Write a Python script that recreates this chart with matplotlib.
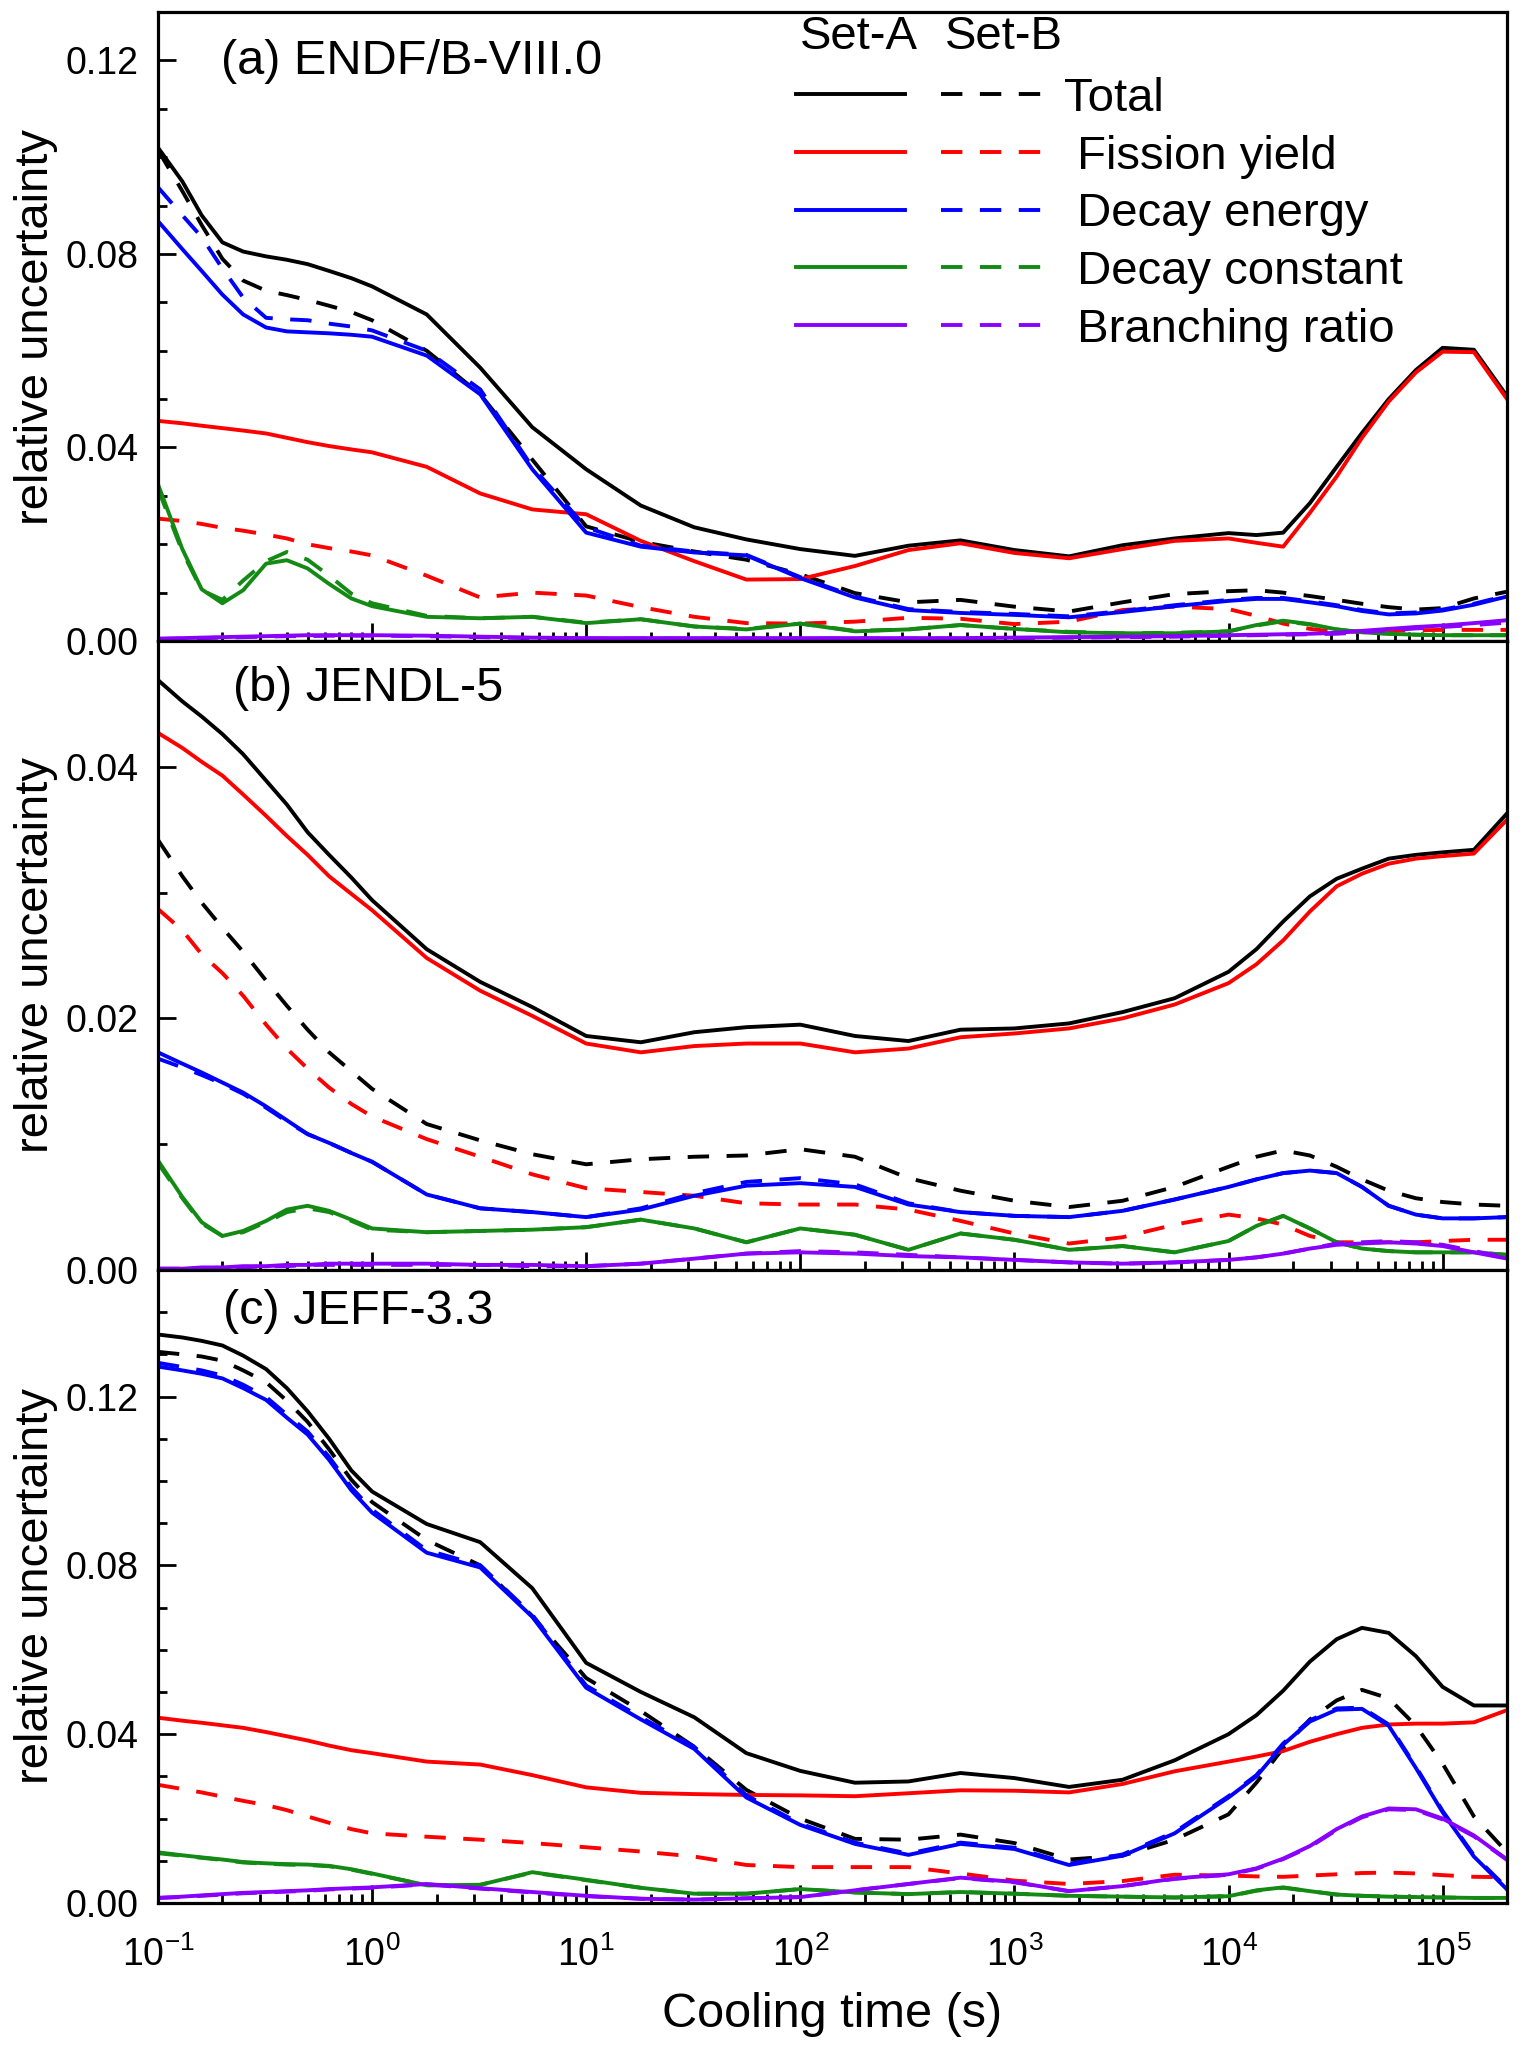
import matplotlib
matplotlib.use("Agg")
import matplotlib.pyplot as plt
from matplotlib.legend_handler import HandlerTuple
from matplotlib.ticker import LogLocator, MultipleLocator, NullFormatter, FormatStrFormatter

plt.rcParams['font.family'] = ['Liberation Sans', 'DejaVu Sans']
plt.rcParams['mathtext.default'] = 'regular'

# cooling time (s)
t = [0.1, 0.13, 0.16, 0.2, 0.25, 0.32, 0.4, 0.5, 0.63, 0.8, 1, 1.8, 3.2, 5.6, 10, 18, 32, 56,
     100, 180, 320, 560, 1e3, 1.8e3, 3.2e3, 5.6e3,
     1e4, 1.35e4, 1.8e4, 2.4e4, 3.2e4, 4.2e4, 5.6e4, 7.5e4, 1e5, 1.4e5, 2e5]
decades = [1e-1, 1e0, 1e1, 1e2, 1e3, 1e4, 1e5]

# (a) ENDF/B-VIII.0
a_tot_A = [0.102, 0.095, 0.088, 0.0824, 0.0805, 0.0795, 0.0788, 0.0779, 0.0765, 0.0750, 0.0733, 0.0675, 0.0565, 0.0442, 0.0355, 0.0280, 0.0235, 0.0210, 0.0190, 0.0176, 0.0197, 0.0208, 0.0188, 0.0175, 0.0198, 0.0212,
           0.0223, 0.0219, 0.0224, 0.0285, 0.0360, 0.0430, 0.0500, 0.0560, 0.0606, 0.0602, 0.0506]
a_tot_B = [0.1015, 0.093, 0.086, 0.079, 0.0745, 0.0724, 0.0715, 0.0705, 0.0693, 0.0680, 0.0663, 0.0600, 0.0510, 0.0375, 0.0237, 0.0205, 0.0185, 0.0168, 0.0138, 0.0099, 0.0080, 0.0085, 0.0071, 0.0061, 0.0080, 0.0097,
           0.0103, 0.0105, 0.0100, 0.0093, 0.0085, 0.0077, 0.0070, 0.0065, 0.0068, 0.0088, 0.0102]
a_fy_A = [0.0455, 0.0450, 0.0445, 0.0440, 0.0435, 0.0429, 0.0420, 0.0411, 0.0403, 0.0396, 0.0390, 0.0360, 0.0305, 0.0272, 0.0262, 0.0207, 0.0165, 0.0127, 0.0128, 0.0155, 0.0188, 0.0202, 0.0182, 0.0171, 0.0190, 0.0207,
          0.0212, 0.0203, 0.0195, 0.0265, 0.0340, 0.0420, 0.0495, 0.0555, 0.0598, 0.0597, 0.0500]
a_fy_B = [0.0253, 0.0248, 0.0242, 0.0234, 0.0228, 0.0220, 0.0212, 0.0200, 0.0192, 0.0185, 0.0177, 0.0135, 0.0090, 0.0100, 0.0094, 0.0070, 0.0050, 0.0037, 0.0036, 0.0040, 0.0048, 0.0046, 0.0035, 0.0040, 0.0064, 0.0071,
          0.0066, 0.0052, 0.0036, 0.0025, 0.0019, 0.0020, 0.0021, 0.0022, 0.0023, 0.0023, 0.0023]
a_de_A = [0.0868, 0.081, 0.0765, 0.0716, 0.0675, 0.0648, 0.0640, 0.0638, 0.0636, 0.0633, 0.0629, 0.0590, 0.0510, 0.0355, 0.0224, 0.0195, 0.0183, 0.0177, 0.0130, 0.0090, 0.0064, 0.0058, 0.0054, 0.0049, 0.0060, 0.0072,
          0.0083, 0.0087, 0.0087, 0.0080, 0.0072, 0.0062, 0.0055, 0.0057, 0.0063, 0.0075, 0.0092]
a_de_B = [0.0938, 0.088, 0.0835, 0.077, 0.071, 0.0668, 0.0665, 0.0663, 0.0656, 0.0650, 0.0642, 0.0600, 0.0520, 0.0360, 0.0235, 0.0197, 0.0185, 0.0178, 0.0132, 0.0092, 0.0066, 0.0060, 0.0056, 0.0051, 0.0062, 0.0074,
          0.0085, 0.0089, 0.0089, 0.0082, 0.0074, 0.0064, 0.0057, 0.0059, 0.0065, 0.0077, 0.0094]
a_dc_A = [0.0324, 0.019, 0.0107, 0.0078, 0.0105, 0.0160, 0.0167, 0.0150, 0.0118, 0.0088, 0.0072, 0.0050, 0.0047, 0.0050, 0.0037, 0.0045, 0.0030, 0.0024, 0.0036, 0.0020, 0.0024, 0.0033, 0.0025, 0.0018, 0.0016, 0.0016,
          0.0020, 0.0033, 0.0042, 0.0035, 0.0024, 0.0018, 0.0015, 0.0013, 0.0012, 0.0012, 0.0012]
a_dc_B = [0.0315, 0.0185, 0.0105, 0.0085, 0.0125, 0.0165, 0.0184, 0.0168, 0.0135, 0.0098, 0.0078, 0.0052, 0.0047, 0.0050, 0.0038, 0.0045, 0.0030, 0.0025, 0.0036, 0.0021, 0.0024, 0.0033, 0.0025, 0.0019, 0.0016, 0.0017,
          0.0020, 0.0032, 0.0041, 0.0034, 0.0024, 0.0018, 0.0015, 0.0013, 0.0012, 0.0012, 0.0012]
a_br_A = [0.0005, 0.0006, 0.0007, 0.0008, 0.0009, 0.0010, 0.0011, 0.0012, 0.0012, 0.0012, 0.0012, 0.0011, 0.0009, 0.0007, 0.0006, 0.0006, 0.0006, 0.0006, 0.0006, 0.0006, 0.0006, 0.0006, 0.0007, 0.0008, 0.0009, 0.0010,
          0.0012, 0.0013, 0.0014, 0.0015, 0.0017, 0.0021, 0.0025, 0.0029, 0.0032, 0.0037, 0.0043]
a_br_B = [0.0004, 0.0005, 0.0006, 0.0007, 0.0008, 0.0009, 0.0010, 0.0010, 0.0011, 0.0011, 0.0011, 0.0010, 0.0008, 0.0006, 0.0005, 0.0005, 0.0005, 0.0005, 0.0005, 0.0005, 0.0005, 0.0005, 0.0006, 0.0007, 0.0008, 0.0009,
          0.0011, 0.0012, 0.0013, 0.0014, 0.0015, 0.0018, 0.0022, 0.0026, 0.0029, 0.0033, 0.0038]

# (b) JENDL-5
b_tot_A = [0.0469, 0.0452, 0.0440, 0.0426, 0.0410, 0.0389, 0.0370, 0.0348, 0.0330, 0.0312, 0.0294, 0.0255, 0.0229, 0.0209, 0.0186, 0.0181, 0.0189, 0.0193, 0.0195, 0.0186, 0.0182, 0.0191, 0.0192, 0.0196, 0.0205, 0.0216,
           0.0237, 0.0255, 0.0277, 0.0297, 0.0311, 0.0319, 0.0327, 0.0330, 0.0332, 0.0334, 0.0363]
b_tot_B = [0.0342, 0.0313, 0.0292, 0.0272, 0.0253, 0.0230, 0.0210, 0.0191, 0.0173, 0.0158, 0.0144, 0.0116, 0.0103, 0.0092, 0.0084, 0.0088, 0.0090, 0.0091, 0.0096, 0.0090, 0.0073, 0.0063, 0.0055, 0.0050, 0.0055, 0.0066,
           0.0082, 0.0090, 0.0095, 0.0091, 0.0082, 0.0072, 0.0063, 0.0057, 0.0054, 0.0052, 0.0051]
b_fy_A = [0.0427, 0.0415, 0.0404, 0.0393, 0.0378, 0.0361, 0.0345, 0.0330, 0.0313, 0.0299, 0.0286, 0.0248, 0.0222, 0.0202, 0.0180, 0.0173, 0.0178, 0.0180, 0.0180, 0.0173, 0.0176, 0.0185, 0.0188, 0.0192, 0.0200, 0.0211,
          0.0228, 0.0243, 0.0262, 0.0285, 0.0305, 0.0315, 0.0323, 0.0327, 0.0329, 0.0331, 0.0358]
b_fy_B = [0.0287, 0.0270, 0.0251, 0.0236, 0.0218, 0.0195, 0.0176, 0.0160, 0.0145, 0.0132, 0.0122, 0.0104, 0.0090, 0.0076, 0.0065, 0.0062, 0.0059, 0.0053, 0.0052, 0.0052, 0.0048, 0.0039, 0.0029, 0.0021, 0.0026, 0.0036,
          0.0044, 0.0041, 0.0036, 0.0027, 0.0022, 0.0022, 0.0022, 0.0022, 0.0023, 0.0024, 0.0024]
b_de_A = [0.0173, 0.0164, 0.0157, 0.0149, 0.0141, 0.0130, 0.0119, 0.0108, 0.0101, 0.0093, 0.0086, 0.0060, 0.0049, 0.0046, 0.0042, 0.0048, 0.0059, 0.0067, 0.0069, 0.0066, 0.0052, 0.0046, 0.0043, 0.0042, 0.0047, 0.0056,
          0.0066, 0.0072, 0.0077, 0.0079, 0.0077, 0.0066, 0.0051, 0.0044, 0.0041, 0.0041, 0.0042]
b_de_B = [0.0168, 0.0161, 0.0155, 0.0148, 0.0140, 0.0129, 0.0118, 0.0108, 0.0101, 0.0093, 0.0086, 0.0060, 0.0049, 0.0046, 0.0042, 0.0049, 0.0061, 0.0070, 0.0073, 0.0068, 0.0053, 0.0046, 0.0043, 0.0042, 0.0047, 0.0056,
          0.0066, 0.0072, 0.0077, 0.0079, 0.0077, 0.0066, 0.0051, 0.0044, 0.0041, 0.0041, 0.0042]
b_dc_A = [0.0087, 0.0058, 0.0038, 0.0027, 0.0031, 0.0039, 0.0048, 0.0051, 0.0047, 0.0040, 0.0033, 0.0030, 0.0031, 0.0032, 0.0034, 0.0040, 0.0033, 0.0022, 0.0033, 0.0028, 0.0016, 0.0029, 0.0024, 0.0016, 0.0019, 0.0014,
          0.0023, 0.0035, 0.0043, 0.0033, 0.0022, 0.0017, 0.0015, 0.0014, 0.0014, 0.0014, 0.0012]
b_dc_B = [0.0085, 0.0057, 0.0037, 0.0027, 0.0030, 0.0038, 0.0046, 0.0049, 0.0046, 0.0039, 0.0032, 0.0030, 0.0031, 0.0032, 0.0034, 0.0040, 0.0033, 0.0022, 0.0033, 0.0028, 0.0016, 0.0029, 0.0024, 0.0016, 0.0019, 0.0014,
          0.0023, 0.0035, 0.0043, 0.0033, 0.0022, 0.0017, 0.0015, 0.0014, 0.0014, 0.0014, 0.0012]
b_br_A = [0.0001, 0.0001, 0.0002, 0.0002, 0.0003, 0.0003, 0.0004, 0.0004, 0.0005, 0.0005, 0.0005, 0.0005, 0.0004, 0.0004, 0.0003, 0.0005, 0.0009, 0.0013, 0.0014, 0.0013, 0.0011, 0.0010, 0.0008, 0.0006, 0.0005, 0.0006,
          0.0008, 0.0010, 0.0013, 0.0017, 0.0020, 0.0021, 0.0022, 0.0021, 0.0019, 0.0014, 0.0009]
b_br_B = [0.0001, 0.0001, 0.0001, 0.0002, 0.0002, 0.0003, 0.0003, 0.0004, 0.0004, 0.0004, 0.0004, 0.0004, 0.0004, 0.0003, 0.0003, 0.0005, 0.0009, 0.0013, 0.0015, 0.0014, 0.0012, 0.0010, 0.0008, 0.0006, 0.0005, 0.0006,
          0.0008, 0.0010, 0.0013, 0.0017, 0.0021, 0.0022, 0.0023, 0.0022, 0.0020, 0.0015, 0.0010]

# (c) JEFF-3.3
c_tot_A = [0.1347, 0.1340, 0.1332, 0.1321, 0.1297, 0.1265, 0.1220, 0.1165, 0.1100, 0.1025, 0.0975, 0.0898, 0.0855, 0.0746, 0.0569, 0.0500, 0.0440, 0.0355, 0.0313, 0.0285, 0.0288, 0.0308, 0.0296, 0.0275, 0.0292, 0.0338,
           0.0400, 0.0445, 0.0503, 0.0572, 0.0625, 0.0652, 0.0640, 0.0585, 0.0512, 0.0468, 0.0468]
c_tot_B = [0.1306, 0.1300, 0.1295, 0.1285, 0.1262, 0.1234, 0.1190, 0.1140, 0.1075, 0.1003, 0.0950, 0.0860, 0.0800, 0.0680, 0.0533, 0.0455, 0.0370, 0.0268, 0.0200, 0.0152, 0.0150, 0.0162, 0.0142, 0.0103, 0.0112, 0.0150,
           0.0210, 0.0285, 0.0367, 0.0435, 0.0480, 0.0505, 0.0485, 0.0420, 0.0330, 0.0205, 0.0120]
c_fy_A = [0.0439, 0.0432, 0.0427, 0.0421, 0.0415, 0.0405, 0.0395, 0.0385, 0.0373, 0.0362, 0.0355, 0.0335, 0.0328, 0.0303, 0.0274, 0.0261, 0.0258, 0.0256, 0.0255, 0.0253, 0.0260, 0.0267, 0.0266, 0.0262, 0.0282, 0.0312,
          0.0335, 0.0347, 0.0360, 0.0382, 0.0400, 0.0415, 0.0423, 0.0425, 0.0425, 0.0428, 0.0457]
c_fy_B = [0.0280, 0.0270, 0.0262, 0.0252, 0.0242, 0.0232, 0.0220, 0.0205, 0.0190, 0.0175, 0.0165, 0.0157, 0.0150, 0.0142, 0.0132, 0.0122, 0.0110, 0.0090, 0.0085, 0.0085, 0.0085, 0.0070, 0.0053, 0.0045, 0.0052, 0.0067,
          0.0065, 0.0063, 0.0062, 0.0065, 0.0068, 0.0071, 0.0072, 0.0070, 0.0066, 0.0062, 0.0061]
c_de_A = [0.1271, 0.1262, 0.1254, 0.1243, 0.1220, 0.1192, 0.1150, 0.1110, 0.1050, 0.0978, 0.0925, 0.0830, 0.0795, 0.0678, 0.0510, 0.0435, 0.0365, 0.0250, 0.0185, 0.0140, 0.0114, 0.0140, 0.0128, 0.0090, 0.0112, 0.0165,
          0.0250, 0.0300, 0.0375, 0.0430, 0.0458, 0.0460, 0.0420, 0.0320, 0.0215, 0.0110, 0.0032]
c_de_B = [0.1280, 0.1270, 0.1262, 0.1250, 0.1228, 0.1199, 0.1157, 0.1117, 0.1057, 0.0985, 0.0932, 0.0836, 0.0800, 0.0683, 0.0515, 0.0440, 0.0370, 0.0255, 0.0188, 0.0143, 0.0117, 0.0143, 0.0131, 0.0093, 0.0115, 0.0168,
          0.0253, 0.0303, 0.0378, 0.0433, 0.0461, 0.0463, 0.0423, 0.0323, 0.0218, 0.0113, 0.0035]
c_dc_A = [0.0120, 0.0113, 0.0108, 0.0103, 0.0097, 0.0094, 0.0092, 0.0091, 0.0088, 0.0080, 0.0070, 0.0042, 0.0043, 0.0073, 0.0055, 0.0036, 0.0022, 0.0022, 0.0033, 0.0025, 0.0021, 0.0026, 0.0022, 0.0017, 0.0015, 0.0013,
          0.0016, 0.0030, 0.0037, 0.0028, 0.0020, 0.0017, 0.0015, 0.0014, 0.0013, 0.0012, 0.0012]
c_dc_B = [0.0118, 0.0112, 0.0107, 0.0102, 0.0096, 0.0093, 0.0091, 0.0090, 0.0087, 0.0079, 0.0069, 0.0042, 0.0043, 0.0072, 0.0054, 0.0036, 0.0022, 0.0022, 0.0033, 0.0025, 0.0021, 0.0026, 0.0022, 0.0017, 0.0015, 0.0013,
          0.0016, 0.0029, 0.0036, 0.0028, 0.0020, 0.0017, 0.0015, 0.0014, 0.0013, 0.0012, 0.0012]
c_br_A = [0.0012, 0.0015, 0.0018, 0.0021, 0.0024, 0.0026, 0.0028, 0.0030, 0.0033, 0.0035, 0.0037, 0.0045, 0.0035, 0.0026, 0.0017, 0.0010, 0.0008, 0.0011, 0.0014, 0.0030, 0.0045, 0.0060, 0.0050, 0.0028, 0.0040, 0.0058,
          0.0068, 0.0082, 0.0105, 0.0135, 0.0175, 0.0205, 0.0224, 0.0222, 0.0200, 0.0160, 0.0103]
c_br_B = [0.0012, 0.0014, 0.0017, 0.0020, 0.0023, 0.0025, 0.0027, 0.0029, 0.0032, 0.0034, 0.0036, 0.0044, 0.0034, 0.0025, 0.0016, 0.0010, 0.0008, 0.0011, 0.0014, 0.0030, 0.0045, 0.0059, 0.0049, 0.0028, 0.0040, 0.0057,
          0.0067, 0.0081, 0.0104, 0.0133, 0.0173, 0.0203, 0.0222, 0.0220, 0.0198, 0.0158, 0.0102]

names = ["Total", " Fission yield", " Decay energy", " Decay constant", " Branching ratio"]
colors = ["black", "#ff0000", "#0000ff", "#138a13", "#8a00ff"]

panels = [
    ("(a) ENDF/B-VIII.0", 0.13, 0.04,
     [(a_tot_A, a_tot_B), (a_fy_A, a_fy_B), (a_de_A, a_de_B), (a_dc_A, a_dc_B), (a_br_A, a_br_B)]),
    ("(b) JENDL-5", 0.05, 0.02,
     [(b_tot_A, b_tot_B), (b_fy_A, b_fy_B), (b_de_A, b_de_B), (b_dc_A, b_dc_B), (b_br_A, b_br_B)]),
    ("(c) JEFF-3.3", 0.15, 0.04,
     [(c_tot_A, c_tot_B), (c_fy_A, c_fy_B), (c_de_A, c_de_B), (c_dc_A, c_dc_B), (c_br_A, c_br_B)]),
]
bottoms = [0.6867, 0.3793, 0.0699]
tops = [0.9941, 0.6867, 0.3793]
label_x = [0.047, 0.056, 0.048]
label_y = [0.922, 0.925, 0.934]

fig = plt.figure(figsize=(15.26, 20.46), dpi=100)
lw = 2.8
dash = (5.5, 4.5)

for i, (title, ymax, major, series) in enumerate(panels):
    ax = fig.add_axes([0.1035, bottoms[i], 0.8841, tops[i] - bottoms[i]])
    handles = []
    for (ya, yb), c in zip(series, colors):
        la, = ax.plot(t, ya, color=c, lw=lw)
        lb, = ax.plot(t, yb, color=c, lw=lw, dashes=dash)
        handles.append((la, lb))
    ax.set_xscale('log')
    ax.set_xticks(decades)
    ax.set_xlim(0.1, 2e5)
    ax.set_ylim(0, ymax)
    ax.yaxis.set_major_locator(MultipleLocator(major))
    ax.yaxis.set_minor_locator(MultipleLocator(0.01))
    ax.yaxis.set_major_formatter(FormatStrFormatter('%.2f'))
    ax.xaxis.set_minor_locator(LogLocator(base=10, subs=range(2, 10), numticks=100))
    ax.xaxis.set_minor_formatter(NullFormatter())
    ax.tick_params(which='both', direction='in', top=False, right=False, width=2)
    ax.tick_params(which='major', length=13, labelsize=27)
    ax.tick_params(which='minor', length=6.5)
    ax.tick_params(axis='y', pad=14)
    ax.tick_params(axis='x', pad=24)
    for s in ax.spines.values():
        s.set_linewidth(2.3)
    if i < 2:
        ax.tick_params(labelbottom=False)
    else:
        ax.set_xlabel("Cooling time (s)", fontsize=35)
        ax.xaxis.set_label_coords(0.5, -0.140)
    ax.set_ylabel("relative uncertainty", fontsize=34)
    ax.yaxis.set_label_coords(-0.074, 0.5)
    ax.text(label_x[i], label_y[i], title, transform=ax.transAxes, fontsize=35, va='center')

    if i == 0:
        ax.legend(handles, names, handler_map={tuple: HandlerTuple(ndivide=None, pad=0.76)},
                  loc='upper left', bbox_to_anchor=(0.473, 0.897), frameon=False,
                  fontsize=34, handlelength=5.38, handletextpad=0.3, labelspacing=0.29,
                  borderpad=0, borderaxespad=0)
        ax.text(0.476, 0.96, "Set-A", transform=ax.transAxes, fontsize=34, va='center')
        ax.text(0.583, 0.96, "Set-B", transform=ax.transAxes, fontsize=34, va='center')

fig.savefig("out.png", dpi=100)
